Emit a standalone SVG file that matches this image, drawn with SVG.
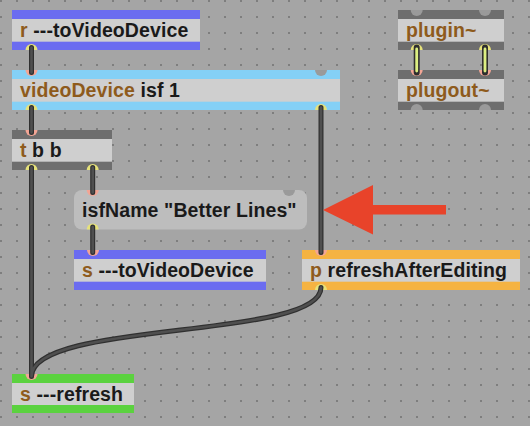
<svg xmlns="http://www.w3.org/2000/svg" width="530" height="426" viewBox="0 0 530 426">
<style>
.mid{fill:#cfcfcf}
.msg{fill:#bdbdbd}
.blue{fill:#6b6cf0}
.lblue{fill:#84d0f6}
.dark{fill:#6e6e6e}
.orange{fill:#f5b342}
.green{fill:#5bd23f}
.t{font-family:"Liberation Sans",Arial,sans-serif;font-weight:bold;font-size:19.5px;letter-spacing:0.1px;fill:#1a1a1a}
.cls{fill:#8e5b1c}
.pin{fill:#f2a595}
.pout{fill:#e6e27a}
.pgray{fill:#9a9a9a}
.cordo{fill:none;stroke:#303030;stroke-width:5;stroke-linecap:round}
.cordi{fill:none;stroke:#4f4f4f;stroke-width:2.6;stroke-linecap:round}
.sigo{fill:none;stroke:#2e2e2e;stroke-width:6;stroke-linecap:round}
.sigi{fill:none;stroke:#dcef82;stroke-width:2.8;stroke-linecap:round}
</style>
<defs>
<pattern id="grid" width="16" height="16" patternUnits="userSpaceOnUse">
<rect x="0" y="0" width="2" height="2" fill="#7e7e7e"/>
</pattern>
</defs>
<rect width="530" height="426" fill="#a5a5a5"/>
<rect width="530" height="426" fill="url(#grid)"/>

<g id="r_toVideoDevice">
<rect class="mid" x="12" y="10" width="188" height="40"/>
<rect class="blue" x="12" y="10" width="188" height="9"/>
<rect class="blue" x="12" y="41.7" width="188" height="8.3"/>
<text class="t" x="20" y="36.5"><tspan class="cls">r</tspan> ---toVideoDevice</text>
<path class="pout" d="M25.5,50 A6,6 0 0 1 37.5,50 Z"/>
</g>

<g id="videoDevice">
<rect class="mid" x="12" y="70" width="328" height="40"/>
<rect class="lblue" x="12" y="70" width="328" height="9"/>
<rect class="lblue" x="12" y="101.7" width="328" height="8.3"/>
<text class="t" x="20" y="96.5"><tspan class="cls">videoDevice</tspan> isf 1</text>
<path class="pin" d="M25.5,70 A6,6 0 0 0 37.5,70 Z"/>
<path class="pgray" d="M315,70 A6,6 0 0 0 327,70 Z"/>
<path class="pout" d="M25.5,110 A6,6 0 0 1 37.5,110 Z"/>
<path class="pout" d="M315,110 A6,6 0 0 1 327,110 Z"/>
</g>

<g id="plugin">
<rect class="mid" x="398" y="10" width="106" height="40"/>
<rect class="dark" x="398" y="10" width="106" height="9"/>
<rect class="dark" x="398" y="41.7" width="106" height="8.3"/>
<text class="t" x="406" y="36.5"><tspan class="cls">plugin~</tspan></text>
<path class="pgray" d="M410.7,10 A6,6 0 0 0 422.7,10 Z"/>
<path class="pgray" d="M479,10 A6,6 0 0 0 491,10 Z"/>
<path class="pout" d="M410.7,50 A6,6 0 0 1 422.7,50 Z"/>
<path class="pout" d="M479,50 A6,6 0 0 1 491,50 Z"/>
</g>

<g id="plugout">
<rect class="mid" x="398" y="70" width="106" height="40"/>
<rect class="dark" x="398" y="70" width="106" height="9"/>
<rect class="dark" x="398" y="101.7" width="106" height="8.3"/>
<text class="t" x="406" y="96.5"><tspan class="cls">plugout~</tspan></text>
<path class="pin" d="M410.7,70 A6,6 0 0 0 422.7,70 Z"/>
<path class="pin" d="M479,70 A6,6 0 0 0 491,70 Z"/>
<path class="pgray" d="M410.7,110 A6,6 0 0 1 422.7,110 Z"/>
<path class="pgray" d="M479,110 A6,6 0 0 1 491,110 Z"/>
</g>

<g id="t_b_b">
<rect class="mid" x="12" y="130" width="100" height="40"/>
<rect class="dark" x="12" y="130" width="100" height="9"/>
<rect class="dark" x="12" y="161.7" width="100" height="8.3"/>
<text class="t" x="20" y="156.5"><tspan class="cls">t</tspan> b b</text>
<path class="pin" d="M25.5,130 A6,6 0 0 0 37.5,130 Z"/>
<path class="pout" d="M25.5,170 A6,6 0 0 1 37.5,170 Z"/>
<path class="pout" d="M86.7,170 A6,6 0 0 1 98.7,170 Z"/>
</g>

<g id="isfName">
<rect class="msg" x="74" y="190" width="233" height="39.5" rx="8"/>
<text class="t" x="82" y="216.5">isfName "Better Lines"</text>
<path class="pin" d="M86.7,190 A6,6 0 0 0 98.7,190 Z"/>
<path class="pgray" d="M283,190 A6,6 0 0 0 295,190 Z"/>
<path class="pout" d="M86.7,229.5 A6,6 0 0 1 98.7,229.5 Z"/>
</g>

<g id="s_toVideoDevice">
<rect class="mid" x="74" y="250" width="192" height="40"/>
<rect class="blue" x="74" y="250" width="192" height="9"/>
<rect class="blue" x="74" y="281.7" width="192" height="8.3"/>
<text class="t" x="82" y="276.5"><tspan class="cls">s</tspan> ---toVideoDevice</text>
<path class="pin" d="M87,250 A6,6 0 0 0 99,250 Z"/>
</g>

<g id="p_refreshAfterEditing">
<rect class="mid" x="302" y="250" width="218" height="40"/>
<rect class="orange" x="302" y="250" width="218" height="9"/>
<rect class="orange" x="302" y="281.7" width="218" height="8.3"/>
<text class="t" x="310" y="276.5"><tspan class="cls">p</tspan> refreshAfterEditing</text>
<path class="pin" d="M315,250 A6,6 0 0 0 327,250 Z"/>
<path class="pout" d="M315,290 A6,6 0 0 1 327,290 Z"/>
</g>

<g id="s_refresh">
<rect class="mid" x="12" y="374" width="122" height="39"/>
<rect class="green" x="12" y="374" width="122" height="9"/>
<rect class="green" x="12" y="405" width="122" height="8"/>
<text class="t" x="20" y="400.5"><tspan class="cls">s</tspan> ---refresh</text>
<path class="pin" d="M25.5,374 A6,6 0 0 0 37.5,374 Z"/>
</g>

<g id="connectors">
<path class="cordo" d="M31.5,47.5 L31.5,72.5 M31.5,107.5 L31.5,132.5 M321,107.5 L321,252.5 M31.5,167.5 L31.5,376.5 M92.7,167.5 L92.7,192.5 M92.7,227 L92.7,252.5 M321,287.5 C321,340 31.5,320 31.5,376.5"/>
<path class="cordi" d="M31.5,47.5 L31.5,72.5 M31.5,107.5 L31.5,132.5 M321,107.5 L321,252.5 M31.5,167.5 L31.5,376.5 M92.7,167.5 L92.7,192.5 M92.7,227 L92.7,252.5 M321,287.5 C321,340 31.5,320 31.5,376.5"/>
<path class="sigo" d="M416.7,47.5 L416.7,72.5 M485,47.5 L485,72.5"/>
<path class="sigi" d="M416.7,49 L416.7,71 M485,49 L485,71"/>
</g>

<polygon points="323,210 373,185 373,205 446,205 446,214.5 373,214.5 373,234.5" fill="#e8432a"/>
</svg>
